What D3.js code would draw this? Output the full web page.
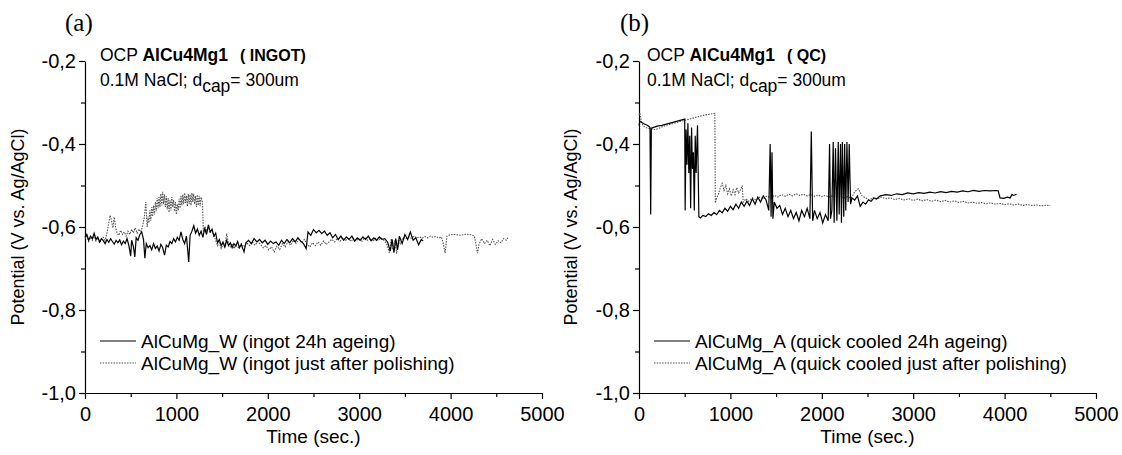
<!DOCTYPE html>
<html><head><meta charset="utf-8">
<script src="https://cdn.jsdelivr.net/npm/d3@7"></script>
<style>
html,body{margin:0;padding:0;background:#fff;}
svg{display:block;font-family:"Liberation Sans",Arial,sans-serif;}
</style></head>
<body>
<svg id="c" width="1122" height="455"></svg>
<script>
// ---------- DATA ----------
const xMajorTicks = [0, 1000, 2000, 3000, 4000, 5000];
const xMinorTicks = [500, 1500, 2500, 3500, 4500];
const yMajorTicks = [-1.0, -0.8, -0.6, -0.4, -0.2];
const yMinorTicks = [-0.9, -0.7, -0.5, -0.3];
const panelLabels = ["(a)", "(b)"];
const panelTitles = ["( INGOT)", "( QC)"];
const legendA = ["AlCuMg_W (ingot 24h ageing)", "AlCuMg_W (ingot just after polishing)"];
const legendB = ["AlCuMg_A (quick cooled 24h ageing)", "AlCuMg_A (quick cooled just after polishing)"];

// panel (a) – ingot, 24h ageing  [time s, potential V]
const aSolid = [[0,-0.625],[20,-0.618],[40,-0.632],[60,-0.622],[80,-0.628],[100,-0.615],[120,-0.630],[140,-0.624],[160,-0.636],[180,-0.628],[200,-0.633],[220,-0.640],[240,-0.630],[260,-0.637],[280,-0.628],[300,-0.635],[320,-0.641],[340,-0.632],[360,-0.638],[380,-0.631],[400,-0.643],[420,-0.634],[440,-0.640],[460,-0.628],[480,-0.645],[500,-0.670],[510,-0.632],[530,-0.648],[545,-0.672],[560,-0.626],[580,-0.632],[600,-0.618],[620,-0.612],[640,-0.630],[655,-0.675],[670,-0.640],[690,-0.650],[710,-0.645],[730,-0.655],[750,-0.640],[770,-0.652],[790,-0.646],[810,-0.658],[830,-0.642],[850,-0.650],[870,-0.668],[890,-0.644],[910,-0.648],[930,-0.635],[950,-0.640],[970,-0.628],[990,-0.636],[1010,-0.625],[1030,-0.632],[1050,-0.612],[1070,-0.630],[1090,-0.640],[1110,-0.622],[1135,-0.684],[1150,-0.620],[1170,-0.610],[1190,-0.597],[1210,-0.615],[1230,-0.605],[1250,-0.620],[1270,-0.610],[1290,-0.625],[1310,-0.603],[1330,-0.618],[1350,-0.595],[1370,-0.612],[1390,-0.606],[1410,-0.622],[1430,-0.615],[1450,-0.638],[1470,-0.630],[1490,-0.645],[1510,-0.636],[1530,-0.648],[1550,-0.632],[1570,-0.645],[1590,-0.638],[1610,-0.650],[1630,-0.640],[1650,-0.646],[1670,-0.635],[1690,-0.650],[1710,-0.642],[1740,-0.660],[1760,-0.638],[1790,-0.632],[1820,-0.640],[1850,-0.628],[1880,-0.636],[1910,-0.630],[1940,-0.638],[1970,-0.632],[2000,-0.642],[2030,-0.634],[2060,-0.640],[2090,-0.636],[2120,-0.644],[2150,-0.632],[2180,-0.640],[2210,-0.630],[2240,-0.638],[2270,-0.628],[2300,-0.636],[2330,-0.626],[2360,-0.634],[2390,-0.640],[2420,-0.652],[2440,-0.612],[2470,-0.620],[2500,-0.606],[2530,-0.614],[2560,-0.608],[2590,-0.616],[2620,-0.610],[2650,-0.620],[2680,-0.614],[2710,-0.626],[2740,-0.618],[2770,-0.630],[2800,-0.622],[2830,-0.632],[2860,-0.624],[2890,-0.630],[2920,-0.622],[2950,-0.634],[2980,-0.626],[3010,-0.632],[3040,-0.624],[3070,-0.630],[3100,-0.622],[3130,-0.633],[3160,-0.626],[3190,-0.632],[3220,-0.624],[3250,-0.630],[3280,-0.628],[3310,-0.636],[3340,-0.658],[3360,-0.630],[3380,-0.662],[3400,-0.628],[3420,-0.655],[3440,-0.622],[3470,-0.640],[3500,-0.618],[3530,-0.630],[3560,-0.612],[3590,-0.632],[3620,-0.626],[3650,-0.643],[3680,-0.630],[3700,-0.634]];

// panel (a) – ingot, just after polishing
const aDotted = [[0,-0.628],[20,-0.622],[40,-0.635],[60,-0.625],[80,-0.632],[100,-0.620],[120,-0.634],[140,-0.626],[160,-0.638],[180,-0.630],[200,-0.625],[220,-0.632],[240,-0.615],[260,-0.590],[275,-0.572],[290,-0.585],[305,-0.602],[320,-0.576],[335,-0.600],[350,-0.615],[370,-0.620],[390,-0.608],[410,-0.618],[430,-0.612],[450,-0.622],[470,-0.610],[490,-0.618],[510,-0.606],[530,-0.614],[550,-0.602],[570,-0.615],[590,-0.605],[610,-0.612],[630,-0.598],[650,-0.575],[665,-0.540],[680,-0.600],[690,-0.575],[700,-0.590],[710,-0.560],[720,-0.585],[730,-0.552],[740,-0.575],[750,-0.548],[760,-0.570],[770,-0.540],[780,-0.562],[790,-0.530],[800,-0.555],[810,-0.528],[820,-0.552],[830,-0.520],[840,-0.548],[850,-0.515],[860,-0.545],[870,-0.522],[880,-0.552],[890,-0.526],[900,-0.558],[910,-0.530],[920,-0.565],[930,-0.535],[940,-0.560],[950,-0.528],[960,-0.552],[970,-0.535],[980,-0.562],[990,-0.540],[1000,-0.570],[1010,-0.545],[1020,-0.560],[1030,-0.532],[1040,-0.555],[1050,-0.525],[1060,-0.548],[1070,-0.522],[1080,-0.545],[1090,-0.518],[1100,-0.542],[1110,-0.525],[1120,-0.550],[1130,-0.520],[1140,-0.545],[1150,-0.522],[1160,-0.548],[1170,-0.518],[1180,-0.540],[1190,-0.520],[1200,-0.545],[1210,-0.525],[1220,-0.552],[1230,-0.522],[1240,-0.548],[1250,-0.525],[1260,-0.550],[1270,-0.528],[1285,-0.540],[1295,-0.612],[1310,-0.598],[1330,-0.610],[1350,-0.600],[1370,-0.615],[1390,-0.605],[1410,-0.620],[1430,-0.632],[1450,-0.645],[1470,-0.638],[1490,-0.652],[1510,-0.642],[1530,-0.650],[1550,-0.615],[1570,-0.640],[1590,-0.648],[1610,-0.640],[1630,-0.652],[1650,-0.644],[1680,-0.650],[1710,-0.640],[1740,-0.648],[1770,-0.638],[1800,-0.645],[1830,-0.636],[1860,-0.644],[1890,-0.635],[1920,-0.642],[1950,-0.650],[1980,-0.645],[2010,-0.655],[2040,-0.648],[2070,-0.660],[2100,-0.646],[2130,-0.654],[2160,-0.640],[2190,-0.648],[2220,-0.636],[2250,-0.644],[2280,-0.632],[2310,-0.640],[2340,-0.630],[2370,-0.638],[2400,-0.630],[2430,-0.642],[2460,-0.648],[2490,-0.638],[2520,-0.645],[2550,-0.636],[2580,-0.644],[2610,-0.634],[2640,-0.642],[2670,-0.636],[2700,-0.630],[2730,-0.636],[2760,-0.628],[2790,-0.634],[2820,-0.626],[2850,-0.632],[2880,-0.628],[2910,-0.635],[2940,-0.627],[2970,-0.633],[3000,-0.628],[3030,-0.634],[3060,-0.626],[3090,-0.632],[3120,-0.628],[3150,-0.634],[3180,-0.627],[3210,-0.632],[3240,-0.626],[3270,-0.632],[3300,-0.640],[3330,-0.662],[3350,-0.628],[3370,-0.655],[3390,-0.632],[3410,-0.664],[3430,-0.630],[3450,-0.640],[3480,-0.625],[3510,-0.628],[3540,-0.624],[3570,-0.627],[3600,-0.622],[3630,-0.626],[3660,-0.624],[3690,-0.627],[3720,-0.623],[3750,-0.626],[3780,-0.622],[3810,-0.625],[3840,-0.623],[3870,-0.626],[3900,-0.624],[3920,-0.640],[3940,-0.663],[3960,-0.622],[3990,-0.619],[4050,-0.618],[4110,-0.620],[4170,-0.617],[4230,-0.619],[4260,-0.622],[4280,-0.645],[4295,-0.663],[4310,-0.642],[4340,-0.628],[4370,-0.640],[4400,-0.632],[4430,-0.645],[4460,-0.630],[4490,-0.642],[4520,-0.633],[4550,-0.638],[4580,-0.628],[4610,-0.632],[4630,-0.624]];

// panel (b) – quick cooled, 24h ageing
const bSolid = [[0,-0.355],[10,-0.345],[30,-0.348],[60,-0.352],[90,-0.355],[110,-0.358],[120,-0.360],[128,-0.570],[135,-0.362],[160,-0.360],[200,-0.357],[250,-0.355],[300,-0.352],[350,-0.349],[400,-0.346],[450,-0.343],[500,-0.340],[505,-0.560],[515,-0.365],[525,-0.450],[535,-0.350],[545,-0.470],[555,-0.380],[565,-0.555],[575,-0.360],[585,-0.460],[595,-0.420],[605,-0.560],[615,-0.380],[625,-0.470],[640,-0.355],[655,-0.575],[670,-0.578],[700,-0.572],[730,-0.575],[760,-0.568],[790,-0.572],[820,-0.565],[850,-0.570],[880,-0.560],[910,-0.566],[940,-0.555],[970,-0.562],[1000,-0.550],[1030,-0.558],[1060,-0.545],[1090,-0.555],[1120,-0.540],[1150,-0.550],[1180,-0.538],[1210,-0.548],[1240,-0.532],[1270,-0.545],[1300,-0.528],[1330,-0.540],[1360,-0.525],[1390,-0.535],[1420,-0.560],[1435,-0.400],[1445,-0.575],[1455,-0.420],[1465,-0.580],[1480,-0.540],[1510,-0.555],[1540,-0.548],[1570,-0.570],[1600,-0.555],[1630,-0.575],[1660,-0.560],[1690,-0.580],[1720,-0.565],[1750,-0.585],[1780,-0.560],[1810,-0.575],[1840,-0.555],[1870,-0.580],[1885,-0.370],[1900,-0.585],[1920,-0.560],[1950,-0.580],[1980,-0.565],[2010,-0.590],[2040,-0.570],[2070,-0.585],[2085,-0.400],[2095,-0.580],[2110,-0.560],[2125,-0.395],[2135,-0.590],[2150,-0.410],[2165,-0.585],[2180,-0.395],[2190,-0.570],[2205,-0.400],[2215,-0.590],[2225,-0.395],[2240,-0.575],[2250,-0.400],[2262,-0.560],[2275,-0.395],[2288,-0.540],[2300,-0.400],[2315,-0.545],[2330,-0.530],[2360,-0.535],[2390,-0.525],[2420,-0.550],[2450,-0.540],[2480,-0.545],[2510,-0.535],[2540,-0.538],[2570,-0.530],[2600,-0.532],[2640,-0.525],[2700,-0.522],[2760,-0.524],[2820,-0.520],[2880,-0.522],[2940,-0.518],[3000,-0.520],[3060,-0.517],[3120,-0.519],[3180,-0.516],[3240,-0.518],[3300,-0.515],[3360,-0.517],[3420,-0.514],[3480,-0.516],[3540,-0.513],[3600,-0.515],[3660,-0.512],[3720,-0.514],[3780,-0.512],[3840,-0.513],[3900,-0.512],[3930,-0.513],[3950,-0.530],[3990,-0.531],[4030,-0.528],[4060,-0.530],[4080,-0.522],[4100,-0.524],[4130,-0.521]];

// panel (b) – quick cooled, just after polishing
const bDotted = [[0,-0.330],[10,-0.325],[20,-0.340],[40,-0.355],[70,-0.360],[100,-0.362],[140,-0.364],[180,-0.365],[220,-0.362],[260,-0.358],[300,-0.355],[350,-0.352],[400,-0.349],[450,-0.346],[500,-0.343],[550,-0.340],[600,-0.337],[650,-0.334],[700,-0.331],[750,-0.329],[800,-0.327],[830,-0.326],[835,-0.542],[850,-0.530],[870,-0.520],[890,-0.505],[910,-0.495],[930,-0.512],[950,-0.500],[970,-0.520],[990,-0.508],[1010,-0.525],[1030,-0.510],[1050,-0.522],[1070,-0.505],[1090,-0.518],[1110,-0.510],[1130,-0.500],[1140,-0.540],[1170,-0.532],[1200,-0.538],[1240,-0.530],[1280,-0.535],[1320,-0.528],[1360,-0.532],[1400,-0.525],[1440,-0.530],[1480,-0.524],[1520,-0.528],[1560,-0.522],[1600,-0.526],[1640,-0.521],[1680,-0.525],[1720,-0.520],[1760,-0.524],[1800,-0.521],[1840,-0.525],[1880,-0.522],[1920,-0.526],[1960,-0.523],[2000,-0.527],[2040,-0.524],[2080,-0.528],[2120,-0.525],[2160,-0.529],[2200,-0.526],[2240,-0.530],[2280,-0.527],[2320,-0.531],[2360,-0.515],[2400,-0.508],[2440,-0.525],[2480,-0.530],[2520,-0.535],[2560,-0.530],[2600,-0.533],[2650,-0.528],[2700,-0.532],[2750,-0.530],[2800,-0.534],[2850,-0.531],[2900,-0.535],[2950,-0.532],[3000,-0.536],[3050,-0.533],[3100,-0.537],[3150,-0.534],[3200,-0.538],[3250,-0.535],[3300,-0.539],[3350,-0.536],[3400,-0.540],[3450,-0.537],[3500,-0.541],[3550,-0.538],[3600,-0.542],[3650,-0.540],[3700,-0.543],[3750,-0.541],[3800,-0.544],[3850,-0.542],[3900,-0.545],[3950,-0.543],[4000,-0.546],[4050,-0.544],[4100,-0.547],[4150,-0.545],[4200,-0.548],[4250,-0.546],[4300,-0.548],[4350,-0.547],[4400,-0.549],[4450,-0.548],[4500,-0.548]];

// ---------- DRAW ----------
const svg = d3.select("#c");
const FONT = '"Liberation Sans",Arial,sans-serif';
const panels = [
  {ax:85, solid:aSolid, dotted:aDotted, label:panelLabels[0], title:panelTitles[0], legend:legendA, hx:100, labX:65, ylabX:24},
  {ax:639, solid:bSolid, dotted:bDotted, label:panelLabels[1], title:panelTitles[1], legend:legendB, hx:647, labX:620, ylabX:577}
];
const TOP = 61, BOT = 393, PW = 457;
const fmtY = d => d.toFixed(1).replace(".", ",").replace("\u2212","-");

panels.forEach(p => {
  const x = d3.scaleLinear().domain([0, 5000]).range([p.ax, p.ax + PW]);
  const y = d3.scaleLinear().domain([-1.0, -0.2]).range([BOT, TOP]);
  const g = svg.append("g");

  // minor ticks
  g.append("g").attr("transform", `translate(0,${BOT})`)
    .call(d3.axisBottom(x).tickValues(xMinorTicks).tickSize(4).tickFormat("").tickSizeOuter(0))
    .call(s => s.select(".domain").remove());
  g.append("g").attr("transform", `translate(${p.ax},0)`)
    .call(d3.axisLeft(y).tickValues(yMinorTicks).tickSize(4).tickFormat("").tickSizeOuter(0))
    .call(s => s.select(".domain").remove());

  // major axes
  const xa = g.append("g").attr("transform", `translate(0,${BOT})`)
    .call(d3.axisBottom(x).tickValues(xMajorTicks).tickSize(6).tickPadding(8).tickSizeOuter(0).tickFormat(d3.format("d")));
  const ya = g.append("g").attr("transform", `translate(${p.ax},0)`)
    .call(d3.axisLeft(y).tickValues(yMajorTicks).tickSize(6).tickPadding(3).tickSizeOuter(0).tickFormat(fmtY));
  [xa, ya].forEach(a => {
    a.selectAll("text").attr("font-family", FONT).attr("font-size", 20).attr("fill", "#000");
    a.selectAll("line,path").attr("stroke", "#000").attr("stroke-width", 1.2);
  });
  g.selectAll(".tick line").attr("stroke", "#000").attr("stroke-width", 1.2);

  // series
  const line = d3.line().x(d => x(d[0])).y(d => y(d[1]));
  g.append("path").datum(p.dotted).attr("d", line)
    .attr("fill", "none").attr("stroke", "#555").attr("stroke-width", 1.1)
    .attr("stroke-dasharray", "1.5,1.2");
  g.append("path").datum(p.solid).attr("d", line)
    .attr("fill", "none").attr("stroke", "#000").attr("stroke-width", 1.2);

  // panel label
  svg.append("text").attr("x", p.labX).attr("y", 31)
    .attr("font-family", '"Liberation Serif","Times New Roman",serif').attr("font-size", 25)
    .text(p.label);

  // header
  const h1 = svg.append("text").attr("x", p.hx).attr("y", 61)
    .attr("font-family", FONT).attr("font-size", 17.5);
  h1.append("tspan").text("OCP ");
  h1.append("tspan").attr("font-weight", "bold").text("AlCu4Mg1");
  h1.append("tspan").attr("font-weight", "bold").attr("dx", 12).attr("font-size", 16).text(p.title);

  const h2 = svg.append("text").attr("x", p.hx).attr("y", 86)
    .attr("font-family", FONT).attr("font-size", 17.5);
  h2.append("tspan").text("0.1M NaCl; d");
  h2.append("tspan").attr("dy", 6).text("cap");
  h2.append("tspan").attr("dy", -6).text("= 300um");

  // legend
  const styles = [{c:"#000", w:1.2, da:null}, {c:"#555", w:1.1, da:"1.5,1.2"}];
  [0, 1].forEach(i => {
    const ly = 341 + i * 22;
    g.append("line").attr("x1", p.ax + 15).attr("x2", p.ax + 51).attr("y1", ly).attr("y2", ly)
      .attr("stroke", styles[i].c).attr("stroke-width", styles[i].w).attr("stroke-dasharray", styles[i].da);
    g.append("text").attr("x", p.ax + 56).attr("y", ly + 7)
      .attr("font-family", FONT).attr("font-size", 19).text(p.legend[i]);
  });

  // axis titles
  g.append("text").attr("x", p.ax + PW / 2).attr("y", 443).attr("text-anchor", "middle")
    .attr("font-family", FONT).attr("font-size", 19).text("Time (sec.)");
  g.append("text").attr("transform", `translate(${p.ylabX},${(TOP + BOT) / 2}) rotate(-90)`)
    .attr("text-anchor", "middle").attr("font-family", FONT).attr("font-size", 18)
    .text("Potential (V vs. Ag/AgCl)");
});
</script>
</body></html>
